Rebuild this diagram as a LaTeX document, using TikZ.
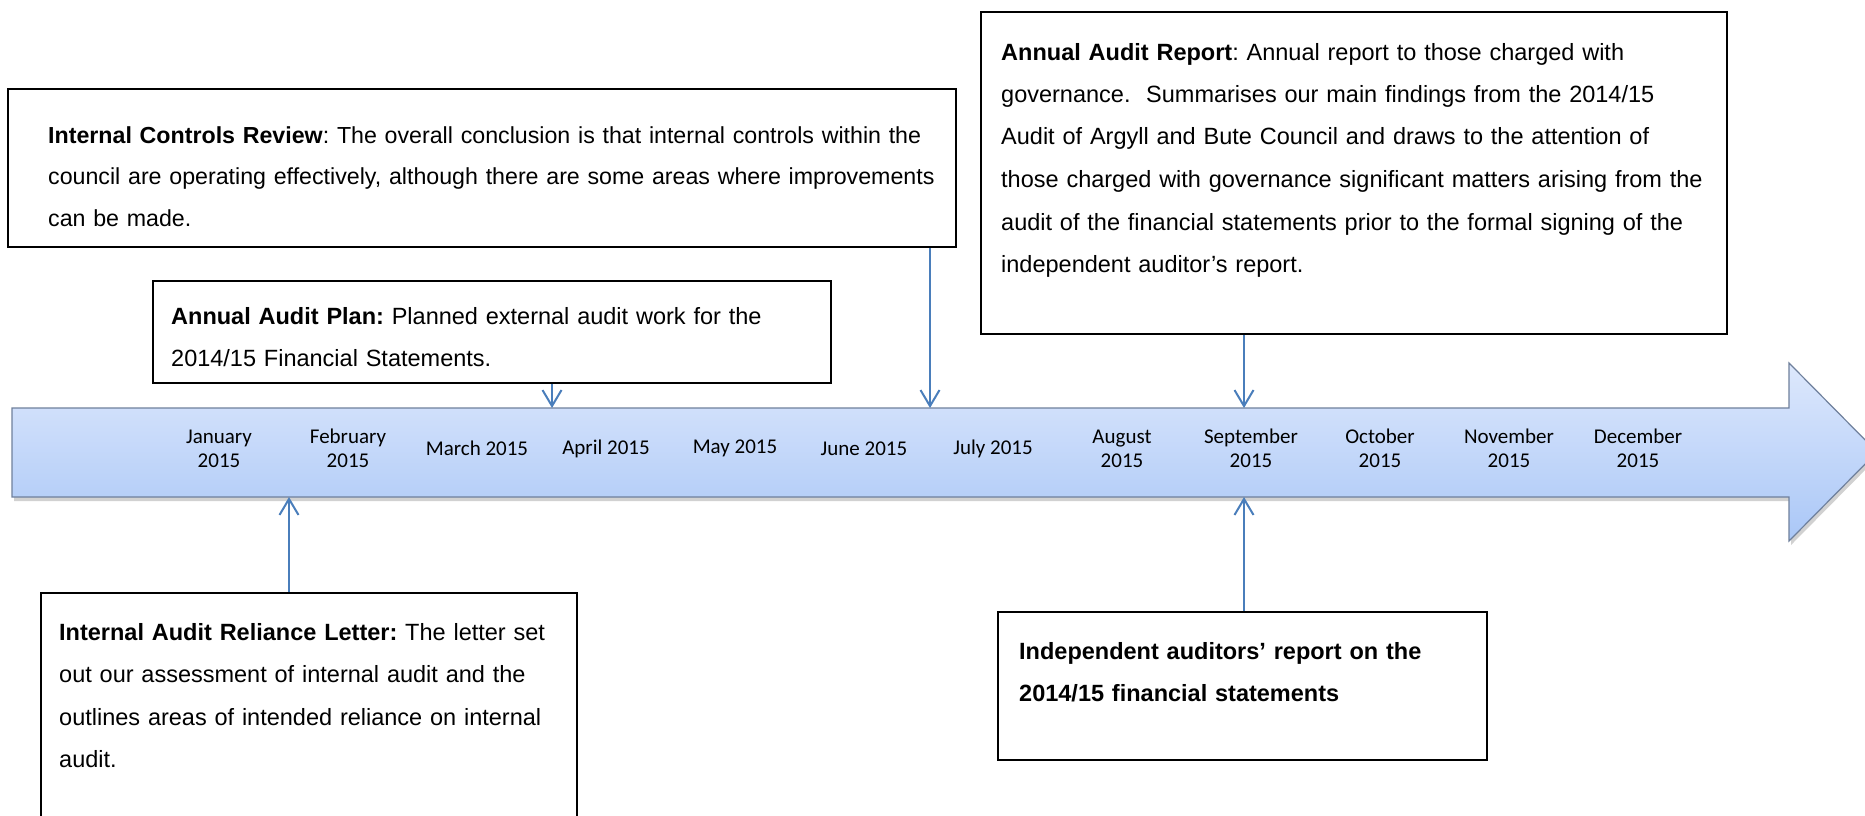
\documentclass[tikz,border=0pt]{standalone}
\usepackage{fontspec}
\setmainfont{Liberation Sans}
\newfontfamily\calib{Carlito}
\usetikzlibrary{arrows.meta}
\definecolor{connblue}{HTML}{4A7EBB}
\definecolor{tlline}{HTML}{6F809C}
\definecolor{tltop}{HTML}{DDE8FC}
\definecolor{tlbot}{HTML}{AAC7F7}
\tikzset{
  box/.style={draw=black, line width=2pt, fill=white, inner sep=0pt, anchor=north west},
  txt/.style={anchor=base west, inner sep=0pt, text width=900pt, align=left,
    font=\fontsize{23.5}{42.5}\selectfont\frenchspacing},
  txtsmall/.style={txt, font=\fontsize{23.2}{41.5}\selectfont\frenchspacing},
  month/.style={align=center, inner sep=0pt, font=\calib\fontsize{21}{24}\selectfont},
  conn/.style={draw=connblue, line width=2pt, -{Straight Barb[length=16pt,width=19pt,line width=2pt]}}
}
\begin{document}
\begin{tikzpicture}[x=1pt,y=-1pt]
\useasboundingbox (0,0) rectangle (1865,816);
\clip (0,0) rectangle (1865,816);
\fill[white] (0,0) rectangle (1865,816);

% timeline arrow
\fill[black, opacity=0.18, shift={(2,4)}] (12,408) -- (1789,408) -- (1789,363) -- (1877,452) -- (1789,541) -- (1789,497) -- (12,497) -- cycle;
\path[draw=tlline, line width=1.2pt, top color=tltop, bottom color=tlbot]
  (12,408) -- (1789,408) -- (1789,363) -- (1877,452) -- (1789,541) -- (1789,497) -- (12,497) -- cycle;

% month labels
\node[month] (m1) at (219,448.5) {January\\2015};
\node[month] (m2) at (348,448.5) {February\\2015};
\node[month] (m3) at (477,448.5) {March 2015};
\node[month] (m4) at (606,448.5) {April 2015};
\node[month] (m5) at (735,448.5) {May 2015};
\node[month] (m6) at (864,448.5) {June 2015};
\node[month] (m7) at (993,448.5) {July 2015};
\node[month] (m8) at (1122,448.5) {August\\2015};
\node[month] (m9) at (1251,448.5) {September\\2015};
\node[month] (m10) at (1380,448.5) {October\\2015};
\node[month] (m11) at (1509,448.5) {November\\2015};
\node[month] (m12) at (1638,448.5) {December\\2015};

% boxes
\node[box, minimum width=948pt, minimum height=158pt] (icr) at (7,88) {};
\node[txtsmall] (icrt) at (48,143) {\textbf{Internal Controls Review}: The overall conclusion is that internal controls within the\\council are operating effectively, although there are some areas where improvements\\can be made.};

\node[box, minimum width=746pt, minimum height=322pt] (aar) at (980,11) {};
\node[txt] (aart) at (1001,60) {\textbf{Annual Audit Report}: Annual report to those charged with\\governance.\ \ Summarises our main findings from the 2014/15\\Audit of Argyll and Bute Council and draws to the attention of\\those charged with governance significant matters arising from the\\audit of the financial statements prior to the formal signing of the\\independent auditor’s report.};

\node[box, minimum width=678pt, minimum height=102pt] (aap) at (152,280) {};
\node[txt] (aapt) at (171,324) {\textbf{Annual Audit Plan:} Planned external audit work for the\\2014/15 Financial Statements.};

\node[box, minimum width=536pt, minimum height=260pt] (iarl) at (40,592) {};
\node[txt] (iarlt) at (59,640) {\textbf{Internal Audit Reliance Letter:} The letter set\\out our assessment of internal audit and the\\outlines areas of intended reliance on internal\\audit.};

\node[box, minimum width=489pt, minimum height=148pt] (ind) at (997,611) {};
\node[txt] (indt) at (1019,659) {{\bfseries Independent auditors’ report on the\\2014/15 financial statements}};

% connectors
\coordinate (tICR) at (930,408);
\coordinate (tAAP) at (552,408);
\coordinate (tAAR) at (1244,408);
\coordinate (tIARL) at (289,497);
\coordinate (tIND) at (1244,497);
\draw[conn] (icr.south -| tICR) -- (tICR);
\draw[conn] (aap.south -| tAAP) -- (tAAP);
\draw[conn] (aar.south -| tAAR) -- (tAAR);
\draw[conn] (iarl.north -| tIARL) -- (tIARL);
\draw[conn] (ind.north -| tIND) -- (tIND);
\end{tikzpicture}
\end{document}
